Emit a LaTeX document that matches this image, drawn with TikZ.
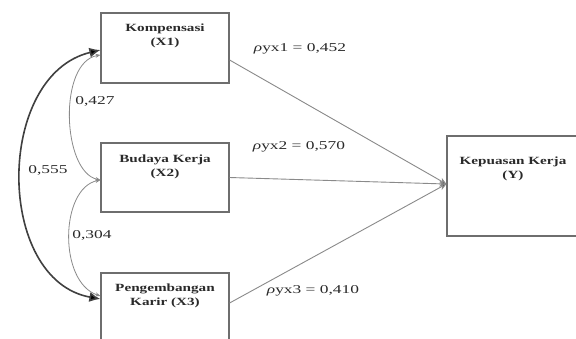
\documentclass[tikz,border=0pt]{standalone}
\usepackage{fontspec}
\setmainfont{Liberation Serif}
\usetikzlibrary{arrows.meta}
\definecolor{boxgray}{HTML}{6E6E6E}
\definecolor{linegray}{HTML}{8A8A8A}
\definecolor{txt}{HTML}{2A2A2A}
\newcommand{\boxtxt}[1]{\scalebox{1.38}[1]{\fontsize{11}{14}\selectfont\bfseries\begin{tabular}{@{}c@{}}#1\end{tabular}}}
\newcommand{\lbltxt}[1]{\scalebox{1.45}[1]{\fontsize{12}{14}\selectfont #1}}
\tikzset{
  varbox/.style={draw=boxgray, line width=1.2pt, minimum width=128pt, inner sep=0pt},
  boxlabel/.style={text=txt, inner sep=0pt, anchor=north},
  coef/.style={text=txt, inner sep=0pt},
  path/.style={draw=linegray, line width=0.9pt, -{Stealth[length=7pt,width=6pt,fill=black!85]}},
  corthick/.style={draw=black!75, line width=1.6pt, {Latex[length=11pt,width=10pt,fill=black]}-{Latex[length=11pt,width=10pt,fill=black]}},
  corthin/.style={draw=linegray, line width=0.8pt, {Stealth[length=5pt,width=4pt,fill=black!85]}-{Stealth[length=5pt,width=4pt,fill=black!85]}}
}
\begin{document}
\begin{tikzpicture}[x=1pt,y=-1pt]
\clip (0,0) rectangle (576,338);
\fill[white] (0,0) rectangle (576,338);
% boxes
\node[varbox, minimum height=70pt] (X1) at (165,48) {};
\node[varbox, minimum height=69pt] (X2) at (165,177.5) {};
\node[varbox, minimum height=72pt] (X3) at (165,309) {};
\node[varbox, minimum width=134pt, minimum height=100pt] (Y) at (514,186) {};
% box texts
\node[boxlabel] (tX1) at (165,21) {\boxtxt{Kompensasi\\(X1)}};
\node[boxlabel] (tX2) at (165,152) {\boxtxt{Budaya Kerja\\(X2)}};
\node[boxlabel] (tX3) at (165,281) {\boxtxt{Pengembangan\\Karir (X3)}};
\node[boxlabel] (tY) at (513,154) {\boxtxt{Kepuasan Kerja\\(Y)}};
% paths to Y
\coordinate (Yin) at ([yshift=2pt]Y.west);
\draw[path] ([yshift=-12pt]X1.east) -- (Yin);
\draw[path] (X2.east) -- (Yin);
\draw[path] ([yshift=6pt]X3.east) -- (Yin);
% correlations
\coordinate (c1) at ([yshift=-2pt]X1.west);
\coordinate (c2) at ([yshift=-2.5pt]X2.west);
\coordinate (c3) at ([yshift=10pt]X3.west);
\draw[corthick] (c1) .. controls (-5,75) and (-5,280) .. (c3);
\draw[corthin] ([yshift=-5pt]c1) .. controls (58,62) and (62,172) .. (c2);
\draw[corthin] (c2) .. controls (60,188) and (58,282) .. ([yshift=3pt]c3);
% coefficient labels
\node[coef] (r12) at (95,101) {\lbltxt{0,427}};
\node[coef] (r13) at (48,170) {\lbltxt{0,555}};
\node[coef] (r23) at (92,235) {\lbltxt{0,304}};
\node[coef] (p1) at (300,49) {\lbltxt{\textit{ρ}yx1 = 0,452}};
\node[coef] (p2) at (299,147) {\lbltxt{\textit{ρ}yx2 = 0,570}};
\node[coef] (p3) at (313,291) {\lbltxt{\textit{ρ}yx3 = 0,410}};
\end{tikzpicture}
\end{document}
